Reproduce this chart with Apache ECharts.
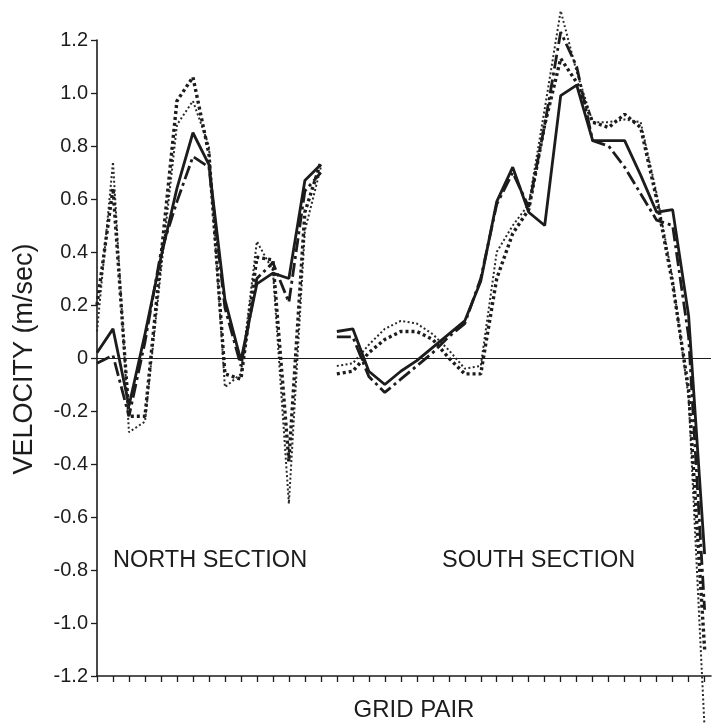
<!DOCTYPE html>
<html>
<head>
<meta charset="utf-8">
<script src="https://cdn.jsdelivr.net/npm/echarts@6/dist/echarts.min.js"></script>
<style>
  html, body { margin: 0; padding: 0; background: #fff; }
  #chart { width: 714px; height: 723px; }
</style>
</head>
<body>
<div id="chart"></div>
<script>
// Grid pair indices (x categories)
const gridPairNorth = [0,1,2,3,4,5,6,7,8,9,10,11,12,13,14];
const gridPairSouth = [15,16,17,18,19,20,21,22,23,24,25,26,27,28,29,30,31,32,33,34,35,36,37,38];

// Velocity (m/sec) – North section
const northSolid   = [0.02, 0.11, -0.18, 0.09, 0.38, 0.64, 0.85, 0.73, 0.22, -0.01, 0.28, 0.32, 0.30, 0.67, 0.73];
const northDashDot = [-0.02, 0.01, -0.22, 0.06, 0.40, 0.59, 0.76, 0.72, 0.19, -0.03, 0.30, 0.36, 0.21, 0.63, 0.70];
const northDashed  = [0.20, 0.64, -0.22, -0.22, 0.38, 0.97, 1.06, 0.77, -0.06, -0.08, 0.38, 0.37, -0.39, 0.55, 0.74];
const northDotted  = [0.10, 0.74, -0.28, -0.24, 0.33, 0.88, 0.97, 0.80, -0.11, -0.06, 0.44, 0.33, -0.55, 0.48, 0.72];

// Velocity (m/sec) – South section
const southSolid   = [0.10, 0.11, -0.05, -0.10, -0.05, -0.01, 0.04, 0.09, 0.14, 0.29, 0.59, 0.72, 0.55, 0.50, 0.99, 1.03, 0.82, 0.82, 0.82, 0.69, 0.55, 0.56, 0.16, -0.74];
const southDashDot = [0.08, 0.08, -0.07, -0.13, -0.08, -0.03, 0.02, 0.08, 0.13, 0.30, 0.58, 0.70, 0.57, 0.88, 1.23, 1.10, 0.82, 0.80, 0.72, 0.62, 0.52, 0.50, 0.08, -0.95];
const southDashed  = [-0.06, -0.05, 0.02, 0.07, 0.10, 0.10, 0.07, 0.00, -0.06, -0.06, 0.30, 0.47, 0.56, 0.88, 1.13, 1.04, 0.89, 0.87, 0.92, 0.87, 0.60, 0.28, -0.12, -1.10];
const southDotted  = [-0.03, -0.02, 0.05, 0.11, 0.14, 0.13, 0.09, 0.03, -0.04, -0.03, 0.40, 0.50, 0.58, 0.94, 1.31, 1.08, 0.89, 0.89, 0.90, 0.89, 0.62, 0.30, -0.15, -1.40];

// Y tick labels
const yTicks = [-1.2, -1.0, -0.8, -0.6, -0.4, -0.2, 0, 0.2, 0.4, 0.6, 0.8, 1.0, 1.2];

const INK = '#1c1c1c';
const FONT = 'Liberation Sans';

function pairs(xs, ys) { return xs.map((x, i) => [x, ys[i]]); }
function joined(nY, sY) {
  // break the line between the two sections
  const gapX = (gridPairNorth[gridPairNorth.length - 1] + gridPairSouth[0]) / 2;
  return pairs(gridPairNorth, nY).concat([[gapX, '-']]).concat(pairs(gridPairSouth, sY));
}

const allTicks = gridPairNorth.concat(gridPairSouth);

const chart = echarts.init(document.getElementById('chart'), null, { renderer: 'canvas' });

const baseSeries = {
  type: 'line', symbol: 'none', connectNulls: false, clip: false,
  animation: false, silent: true
};

chart.setOption({
  animation: false,
  backgroundColor: '#ffffff',
  grid: { left: 97, right: 3, top: 40, bottom: 47, containLabel: false },
  xAxis: {
    type: 'value', min: 0, max: 38.4,
    axisLine: { onZero: false, lineStyle: { color: INK, width: 1.6 } },
    axisTick: { show: true, inside: false, length: 6, customValues: allTicks, lineStyle: { color: INK, width: 1.3 } },
    axisLabel: { show: false },
    splitLine: { show: false }
  },
  yAxis: {
    type: 'value', min: -1.2, max: 1.2, interval: 0.2,
    axisLine: { show: true, lineStyle: { color: INK, width: 1.6 } },
    axisTick: { show: true, inside: false, length: 6, lineStyle: { color: INK, width: 1.3 } },
    axisLabel: {
      show: true, margin: 9, color: INK, fontFamily: FONT, fontSize: 20,
      customValues: yTicks,
      formatter: v => (Math.abs(v) < 1e-9 ? '0' : v.toFixed(1))
    },
    splitLine: { show: false }
  },
  series: [
    Object.assign({}, baseSeries, {
      name: 'dotted', z: 2,
      data: joined(northDotted, southDotted),
      lineStyle: { color: '#2a2a2a', width: 2, type: [2, 2.4] }
    }),
    Object.assign({}, baseSeries, {
      name: 'dashed', z: 3,
      data: joined(northDashed, southDashed),
      lineStyle: { color: INK, width: 3.4, type: [3, 3] }
    }),
    Object.assign({}, baseSeries, {
      name: 'dashdot', z: 4,
      data: joined(northDashDot, southDashDot),
      lineStyle: { color: INK, width: 2.8, type: [14, 4, 3, 4] }
    }),
    Object.assign({}, baseSeries, {
      name: 'solid', z: 5,
      data: joined(northSolid, southSolid),
      lineStyle: { color: INK, width: 2.8, type: 'solid' },
      markLine: {
        silent: true, symbol: 'none', animation: false,
        label: { show: false },
        lineStyle: { color: INK, width: 1, type: 'solid' },
        data: [{ yAxis: 0 }]
      }
    })
  ],
  graphic: [
    { type: 'text', x: 25, y: 359, rotation: Math.PI / 2,
      style: { text: 'VELOCITY (m/sec)', fill: INK, font: '27px "Liberation Sans"', align: 'center', verticalAlign: 'middle' } },
    { type: 'text', x: 113, y: 561,
      style: { text: 'NORTH SECTION', fill: INK, font: '23.5px "Liberation Sans"', align: 'left', verticalAlign: 'middle' } },
    { type: 'text', x: 442, y: 561,
      style: { text: 'SOUTH SECTION', fill: INK, font: '23.5px "Liberation Sans"', align: 'left', verticalAlign: 'middle' } },
    { type: 'text', x: 414, y: 710,
      style: { text: 'GRID PAIR', fill: INK, font: '24px "Liberation Sans"', align: 'center', verticalAlign: 'middle' } }
  ]
});
</script>
</body>
</html>
